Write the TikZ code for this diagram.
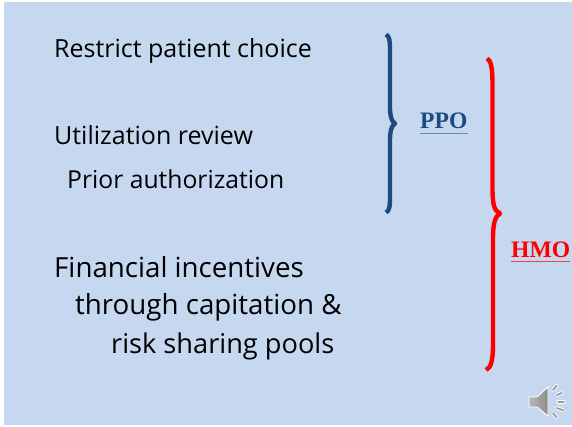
\documentclass[tikz,border=0pt]{standalone}
\usepackage{fontspec}
\setmainfont{Open Sans}
\newfontfamily\serifb{Liberation Serif}[BoldFont={Liberation Serif Bold}]
\definecolor{slidebg}{HTML}{C6D8F0}
\definecolor{ppoblue}{HTML}{1F4A80}
\definecolor{hmored}{HTML}{FF0000}
\begin{document}
\begin{tikzpicture}[x=1pt,y=-1pt,
  small/.style={anchor=base west,inner sep=0pt,font=\fontsize{25}{28}\selectfont,text=black},
  large/.style={anchor=base west,inner sep=0pt,font=\fontsize{27.7}{30}\selectfont,text=black},
  tag/.style={anchor=base west,inner sep=0pt,font=\serifb\bfseries\fontsize{23.6}{26}\selectfont},
  brace/.style={line width=4.4pt,line cap=butt,line join=round},
  tickout/.style={draw=white,line width=3.6pt,line cap=round},
  tickin/.style={draw=black!40,line width=1.7pt,line cap=round}]
\useasboundingbox (0,0) rectangle (572,427);
\fill[white] (0,0) rectangle (572,427);
\fill[slidebg] (4,2) rectangle (572,425);
\node[small] (t1) at (54,58) {Restrict patient choice};
\node[small] (t2) at (54,145) {Utilization review};
\node[small,font=\fontsize{24.7}{28}\selectfont] (t3) at (67,189) {Prior authorization};
\node[large] (t4) at (54,277) {Financial incentives};
\node[large] (t5) at (75,314) {through capitation \&};
\node[large,font=\fontsize{27.2}{30}\selectfont] (t6) at (111,353) {risk sharing pools};
\node[tag,text=ppoblue] (ppo) at (420,129) {PPO};
\draw[ppoblue!55!slidebg,line width=1pt] (ppo.west|-0,133.5) -- (ppo.east|-0,133.5);
\node[tag,text=hmored] (hmo) at (511,258) {HMO};
\draw[hmored!70!slidebg,line width=1pt] (hmo.west|-0,262) -- (hmo.east|-0,262);
\draw[brace,ppoblue] (386,34.5) .. controls (389.5,36) and (390,41) .. (390,50)
  -- (390,107) .. controls (390,115) and (391,121) .. (395,123.5)
  .. controls (391,126) and (390,132) .. (390,140) -- (390,197)
  .. controls (390,206) and (389.5,211) .. (386,212.5);
\draw[brace,hmored] (487,58.5) .. controls (491,60) and (492.5,68) .. (492.5,85)
  -- (492.5,188) .. controls (492.5,204) and (494,211) .. (500,213.5)
  .. controls (495,216) and (493,224) .. (493,238) -- (493,345)
  .. controls (493,360) and (491,368) .. (486,370);
\path[left color=black!28,right color=black!45,draw=white,line width=0.9pt] (529,397) -- (537,397) -- (548,387) -- (548,416) -- (537,407) -- (529,407) -- cycle;
\foreach \xa/\ya/\xb/\yb in {553/390/556.8/385.5, 556.8/395.2/561.8/392.9, 558.2/401.7/564/401.7, 556.8/408/563.2/410.2, 553/413/556.8/417.4}{
  \draw[tickout] (\xa,\ya) -- (\xb,\yb);
  \draw[tickin] (\xa,\ya) -- (\xb,\yb);
}
\end{tikzpicture}
\end{document}
